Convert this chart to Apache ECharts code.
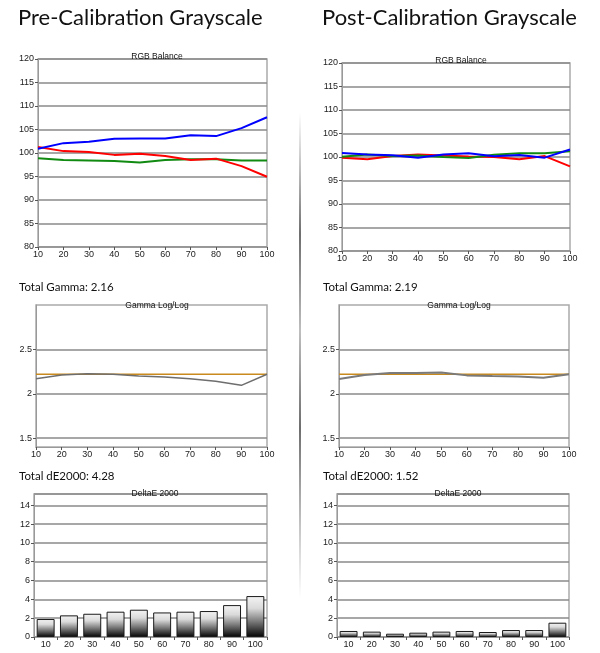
<!DOCTYPE html>
<html><head><meta charset="utf-8">
<script src="https://cdn.jsdelivr.net/npm/echarts@6/dist/echarts.min.js"></script>
<style>html,body{margin:0;padding:0;background:#fff}#c{width:600px;height:653px}</style>
</head><body><div id="c"></div>
<script>
const levels = ['10','20','30','40','50','60','70','80','90','100'];
const rgbTicks = [80, 120, 5];
const gammaTicks = [1.5, 2, 2.5];
const deTicks = [0, 14, 2];

const preRed   = [101.3,100.4,100.2,99.6,99.85,99.35,98.5,98.8,97.2,94.95];
const preGreen = [98.9,98.5,98.4,98.3,98.0,98.5,98.65,98.65,98.4,98.4];
const preBlue  = [100.9,102.1,102.4,103.05,103.1,103.1,103.8,103.6,105.3,107.6];

const postRed   = [99.86,99.5,100.2,100.55,100.3,100.1,100.0,99.5,100.2,98.0];
const postGreen = [100.07,100.55,100.2,100.3,100.0,99.8,100.5,100.8,100.8,101.2];
const postBlue  = [100.85,100.55,100.35,99.86,100.55,100.8,100.14,100.4,99.86,101.6];

const preGamma  = [2.17,2.21,2.225,2.22,2.20,2.19,2.17,2.14,2.095,2.22];
const postGamma = [2.165,2.21,2.234,2.234,2.24,2.207,2.2,2.195,2.18,2.22];
const gammaTarget = [2.22,2.22,2.22,2.22,2.22,2.22,2.22,2.22,2.22,2.22];

const preDE  = [1.91,2.3,2.47,2.69,2.9,2.61,2.69,2.76,3.39,4.35];
const postDE = [0.64,0.57,0.35,0.46,0.57,0.64,0.53,0.74,0.74,1.52];

const headings = ['Pre-Calibration Grayscale','Post-Calibration Grayscale'];
const totals = ['Total Gamma: 2.16','Total Gamma: 2.19','Total dE2000: 4.28','Total dE2000: 1.52'];
const chartNames = ['RGB Balance','Gamma Log/Log','DeltaE 2000'];

const gridLine = {show:true, lineStyle:{color:'#8a8a8a', width:1.5}};
const lbl = {color:'#222', fontSize:9, fontFamily:'Liberation Sans', margin:4};
const axLine = {show:true, lineStyle:{color:'#999', width:1}};
const tick = {show:true, length:3, lineStyle:{color:'#555'}};

const grids = [
  {left:38, top:59, width:229, height:188},
  {left:342, top:63, width:228, height:188},
  {left:36, top:305, width:231, height:142},
  {left:339, top:305, width:230, height:142},
  {left:34, top:494, width:233, height:143},
  {left:337, top:494, width:232, height:143}
].map(g => Object.assign({show:true, borderColor:'#aaa', borderWidth:1.5, backgroundColor:'#fff'}, g));

const xAxes = grids.map((g,i) => ({
  type:'category', gridIndex:i, data:levels, boundaryGap: i>=4,
  axisLine:axLine, axisTick:tick, axisLabel:Object.assign({}, lbl, {margin:3}),
  splitLine:{show:false}
}));

const yAxes = [];
for (let i=0;i<2;i++) yAxes.push({type:'value', gridIndex:i, min:rgbTicks[0], max:rgbTicks[1], interval:rgbTicks[2],
  axisLine:axLine, axisTick:tick, axisLabel:lbl, splitLine:gridLine});
for (let i=2;i<4;i++) yAxes.push({type:'value', gridIndex:i, min:1.4, max:3.0,
  axisLine:axLine, axisTick:Object.assign({customValues:gammaTicks}, tick),
  axisLabel:Object.assign({customValues:gammaTicks}, lbl), splitLine:gridLine});
for (let i=4;i<6;i++) yAxes.push({type:'value', gridIndex:i, min:deTicks[0], max:15.2, interval:deTicks[2],
  axisLine:axLine, axisTick:tick, axisLabel:Object.assign({showMaxLabel:false}, lbl), splitLine:gridLine});

function line(idx, data, color, w){
  return {type:'line', xAxisIndex:idx, yAxisIndex:idx, data:data, symbol:'none',
    lineStyle:{color:color, width:w}, itemStyle:{color:color}, silent:true, animation:false};
}
const barGrad = {type:'linear', x:0, y:0, x2:0, y2:1, colorStops:[
  {offset:0, color:'#f4f4f4'},{offset:0.3, color:'#dadada'},{offset:0.6, color:'#808080'},{offset:1, color:'#030303'}]};
function bars(idx, data){
  return {type:'bar', xAxisIndex:idx, yAxisIndex:idx, data:data, barWidth:'77%',
    itemStyle:{color:barGrad, borderColor:'#1a1a1a', borderWidth:1}, silent:true, animation:false};
}

const series = [
  line(0, preGreen, '#118a11', 2), line(0, preRed, '#ff0000', 2), line(0, preBlue, '#0000ff', 2),
  line(1, postRed, '#ff0000', 2), line(1, postGreen, '#118a11', 2), line(1, postBlue, '#0000ff', 2),
  line(2, gammaTarget, '#c98a1e', 1.5), line(2, preGamma, '#6e6e6e', 1.5),
  line(3, gammaTarget, '#c98a1e', 1.5), line(3, postGamma, '#7a7a7a', 2),
  bars(4, preDE), bars(5, postDE)
];

const T = (text, left, top, size) => ({text:text, left:left, top:top,
  textStyle:{fontFamily:'Lato', fontWeight:'normal', fontSize:size, color:'#111'}});
const sub = (text, cx, top) => ({text:text, left:cx, top:top, textAlign:'center',
  textStyle:{fontFamily:'Liberation Sans', fontWeight:'normal', fontSize:8.5, color:'#111'}});
const titles = [
  T(headings[0], 13, 2, 22), T(headings[1], 317, 2, 22),
  T(totals[0], 14, 276, 11.5), T(totals[1], 318, 276, 11.5),
  T(totals[2], 14, 465, 11.5), T(totals[3], 318, 465, 11.5),
  sub(chartNames[0], 152, 47), sub(chartNames[0], 456, 51),
  sub(chartNames[1], 152, 296), sub(chartNames[1], 454, 296),
  sub(chartNames[2], 150, 484), sub(chartNames[2], 453, 484)
];

const chart = echarts.init(document.getElementById('c'), null, {renderer:'canvas'});
chart.setOption({
  animation:false,
  title: titles,
  grid: grids, xAxis: xAxes, yAxis: yAxes, series: series,
  graphic: [{type:'rect', left:299, top:113, shape:{width:2, height:485}, silent:true,
    style:{fill:{type:'linear', x:0, y:0, x2:0, y2:1, colorStops:[
      {offset:0, color:'rgba(120,120,120,0)'},{offset:0.25, color:'rgba(110,110,110,1)'},
      {offset:0.45, color:'rgba(190,190,190,1)'},{offset:0.65, color:'rgba(110,110,110,1)'},
      {offset:1, color:'rgba(120,120,120,0)'}]}}}]
});
</script></body></html>
